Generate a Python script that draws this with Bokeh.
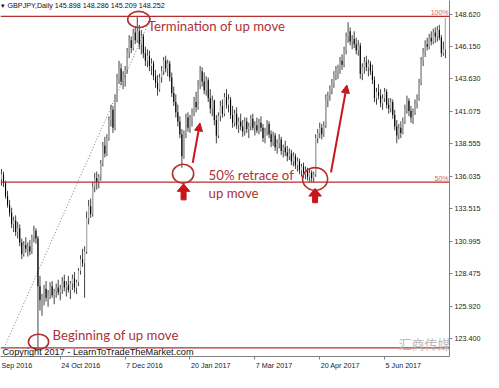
from bokeh.plotting import figure
from bokeh.models import (Range1d, LinearAxis, FixedTicker, CustomJSTickFormatter,
                          Span, Label, Arrow, NormalHead, ColumnDataSource)
from bokeh.embed import file_html
from bokeh.resources import INLINE

# ---------------- data (GBPJPY daily) ----------------
opens = [
    135.8, 136.2, 135.5, 134.5, 133.8, 133.2, 132.3, 132.6, 131.7, 132.0,
    130.9, 130.0, 130.7, 130.4, 130.6, 130.2, 131.3, 131.8, 131.2, 127.5,
    126.4, 126.6, 127.3, 126.6, 126.9, 127.5, 126.8, 127.1, 127.4, 127.0,
    127.3, 127.9, 127.4, 127.6, 127.2, 127.7, 128.1, 127.4, 127.8, 128.7,
    129.6, 129.3, 130.2, 132.8, 133.7, 133.1, 135.2, 135.9, 135.6, 136.0,
    137.0, 138.4, 137.8, 139.0, 140.4, 141.2, 139.8, 142.1, 143.6, 144.4,
    143.4, 143.9, 144.3, 145.7, 146.6, 146.0, 147.2, 146.6, 147.3, 146.3,
    146.9, 145.6, 145.0, 145.4, 144.6, 144.8, 143.8, 143.3, 142.8, 143.7,
    144.2, 145.0, 144.4, 144.8, 143.7, 142.5, 141.8, 141.0, 140.3, 139.3,
    137.6, 139.4, 140.6, 139.8, 140.5, 141.0, 141.8, 141.4, 143.1, 144.2,
    143.4, 142.7, 143.5, 142.1, 141.3, 141.9, 140.4, 139.2, 140.7, 141.5,
    140.9, 142.2, 141.6, 142.0, 140.8, 140.2, 140.9, 140.0, 140.3, 139.9,
    139.5, 140.3, 139.7, 139.9, 140.5, 139.8, 140.0, 139.6, 140.2, 139.8,
    139.0, 139.5, 140.1, 139.3, 138.7, 139.2, 138.3, 138.6, 138.9, 138.0,
    138.3, 137.9, 137.6, 137.8, 137.2, 137.6, 136.9, 137.2, 136.5, 136.8,
    136.2, 136.5, 136.0, 136.3, 135.9, 136.2, 139.0, 139.4, 139.8, 139.3,
    140.0, 142.0, 142.3, 142.8, 143.2, 143.9, 144.1, 144.4, 145.0, 144.7,
    145.8, 146.9, 147.3, 146.5, 146.7, 146.3, 145.8, 146.2, 144.0, 144.5,
    144.9, 144.5, 144.8, 144.2, 143.5, 142.1, 142.6, 142.3, 141.7, 142.1,
    142.6, 141.6, 141.3, 141.8, 140.8, 139.9, 139.2, 139.8, 139.4, 140.3,
    141.3, 141.9, 141.1, 140.6, 141.0, 141.7, 142.1, 143.3, 145.0, 145.7,
    146.3, 146.1, 146.8, 146.5, 147.2, 146.9, 147.4, 146.8, 145.6, 145.898,
]
highs = [
    136.6, 136.4, 135.7, 134.9, 134.2, 133.6, 132.9, 133.0, 132.5, 132.3,
    131.2, 131.0, 131.3, 130.9, 131.1, 131.5, 132.2, 132.0, 131.4, 128.3,
    126.9, 127.6, 127.9, 127.2, 127.8, 127.9, 127.3, 127.7, 128.0, 127.6,
    128.2, 128.4, 127.9, 128.3, 127.9, 128.4, 128.6, 128.0, 128.9, 129.9,
    130.4, 130.6, 133.3, 134.2, 134.3, 135.6, 136.3, 136.4, 136.2, 137.3,
    138.7, 139.1, 139.3, 140.7, 141.6, 141.5, 142.4, 144.0, 145.0, 144.8,
    144.2, 144.6, 146.0, 147.0, 146.9, 147.5, 147.7, 148.45, 147.8, 147.4,
    147.1, 146.1, 145.9, 145.8, 145.2, 145.0, 144.3, 143.9, 144.0, 144.6,
    145.3, 145.4, 145.1, 145.0, 144.1, 143.0, 142.4, 141.6, 140.7, 139.7,
    139.6, 140.9, 141.0, 140.8, 141.3, 142.2, 142.6, 143.5, 144.6, 144.5,
    144.1, 143.8, 143.7, 142.8, 142.3, 142.0, 140.8, 141.0, 141.9, 142.0,
    142.5, 142.8, 142.4, 142.2, 141.5, 141.2, 141.4, 140.6, 140.9, 140.4,
    140.6, 140.6, 140.2, 140.8, 140.9, 140.3, 140.6, 140.5, 140.7, 140.1,
    139.8, 140.4, 140.3, 139.6, 139.5, 139.4, 138.9, 139.3, 139.1, 138.5,
    138.8, 138.4, 138.2, 138.1, 137.9, 137.8, 137.5, 137.4, 137.0, 137.1,
    136.8, 136.7, 136.6, 136.5, 136.4, 139.3, 139.7, 140.2, 140.1, 140.3,
    142.4, 142.6, 143.1, 143.6, 144.2, 144.6, 144.7, 145.3, 145.5, 146.1,
    147.2, 148.0, 147.6, 147.0, 147.3, 146.8, 146.6, 146.4, 144.8, 145.3,
    145.4, 145.1, 145.0, 144.7, 143.8, 142.9, 143.2, 142.8, 142.4, 142.9,
    142.8, 142.1, 142.1, 142.0, 141.2, 140.4, 140.1, 140.3, 140.6, 141.6,
    142.3, 142.1, 141.5, 141.3, 142.0, 142.4, 143.6, 145.3, 146.0, 146.6,
    146.8, 147.1, 147.3, 147.5, 147.6, 147.7, 147.8, 147.0, 146.5, 148.286,
]
lows = [
    135.3, 135.2, 134.3, 133.6, 132.9, 132.0, 131.7, 131.4, 131.2, 130.6,
    129.6, 129.8, 130.1, 129.8, 129.9, 130.0, 130.9, 130.8, 122.7, 125.6,
    125.2, 126.0, 126.3, 125.9, 126.5, 126.6, 126.1, 126.6, 126.8, 126.4,
    126.9, 127.1, 126.7, 127.0, 126.5, 127.2, 127.0, 126.9, 127.5, 128.4,
    129.0, 126.6, 130.0, 132.3, 132.8, 132.9, 134.8, 135.0, 135.1, 135.7,
    136.8, 137.5, 137.6, 138.8, 139.9, 139.4, 139.6, 141.8, 143.2, 143.1,
    142.8, 143.0, 144.0, 145.2, 145.6, 145.8, 146.3, 146.4, 145.9, 145.5,
    145.2, 144.6, 144.5, 144.2, 143.9, 143.5, 142.9, 142.3, 142.6, 143.3,
    143.9, 144.1, 143.8, 143.4, 142.2, 141.5, 140.6, 139.9, 139.0, 136.7,
    137.4, 139.0, 139.5, 139.4, 139.9, 140.7, 141.0, 141.2, 142.8, 143.0,
    142.4, 142.3, 141.8, 140.9, 140.7, 140.0, 138.6, 139.0, 140.3, 140.6,
    140.7, 141.3, 141.0, 140.5, 139.8, 139.9, 139.7, 139.4, 139.6, 139.1,
    139.2, 139.4, 139.0, 139.6, 139.6, 139.2, 139.4, 139.3, 139.5, 138.7,
    138.6, 139.2, 139.0, 138.3, 138.4, 138.0, 137.8, 138.2, 137.7, 137.5,
    137.6, 137.2, 137.3, 136.9, 136.8, 136.6, 136.4, 136.2, 136.0, 135.9,
    135.8, 135.7, 135.6, 135.6, 135.6, 136.0, 138.6, 139.0, 138.9, 139.1,
    139.8, 141.4, 141.9, 142.4, 142.9, 143.5, 143.6, 144.0, 144.3, 144.5,
    145.5, 146.4, 146.2, 145.9, 146.0, 145.5, 145.4, 143.6, 143.5, 144.0,
    144.2, 143.8, 143.9, 143.2, 141.8, 141.6, 142.0, 141.4, 141.2, 141.8,
    141.3, 140.9, 141.0, 140.5, 139.6, 138.6, 138.9, 139.0, 139.3, 140.1,
    140.9, 140.7, 140.2, 140.1, 140.8, 141.3, 141.9, 143.1, 144.6, 145.3,
    145.8, 145.9, 146.2, 146.3, 146.4, 146.5, 146.6, 145.3, 145.4, 145.209,
]
closes = [
    136.2, 135.5, 134.5, 133.8, 133.2, 132.3, 132.6, 131.7, 132.0, 130.9,
    130.0, 130.7, 130.4, 130.6, 130.2, 131.3, 131.8, 131.2, 127.5, 126.4,
    126.6, 127.3, 126.6, 126.9, 127.5, 126.8, 127.1, 127.4, 127.0, 127.3,
    127.9, 127.4, 127.6, 127.2, 127.7, 128.1, 127.4, 127.8, 128.7, 129.6,
    129.3, 130.2, 132.8, 133.7, 133.1, 135.2, 135.9, 135.6, 136.0, 137.0,
    138.4, 137.8, 139.0, 140.4, 141.2, 139.8, 142.1, 143.6, 144.4, 143.4,
    143.9, 144.3, 145.7, 146.6, 146.0, 147.2, 146.6, 147.3, 146.3, 146.9,
    145.6, 145.0, 145.4, 144.6, 144.8, 143.8, 143.3, 142.8, 143.7, 144.2,
    145.0, 144.4, 144.8, 143.7, 142.5, 141.8, 141.0, 140.3, 139.3, 137.6,
    139.4, 140.6, 139.8, 140.5, 141.0, 141.8, 141.4, 143.1, 144.2, 143.4,
    142.7, 143.5, 142.1, 141.3, 141.9, 140.4, 139.2, 140.7, 141.5, 140.9,
    142.2, 141.6, 142.0, 140.8, 140.2, 140.9, 140.0, 140.3, 139.9, 139.5,
    140.3, 139.7, 139.9, 140.5, 139.8, 140.0, 139.6, 140.2, 139.8, 139.0,
    139.5, 140.1, 139.3, 138.7, 139.2, 138.3, 138.6, 138.9, 138.0, 138.3,
    137.9, 137.6, 137.8, 137.2, 137.6, 136.9, 137.2, 136.5, 136.8, 136.2,
    136.5, 136.0, 136.3, 135.9, 136.2, 139.0, 139.4, 139.8, 139.3, 140.0,
    142.0, 142.3, 142.8, 143.2, 143.9, 144.1, 144.4, 145.0, 144.7, 145.8,
    146.9, 147.3, 146.5, 146.7, 146.3, 145.8, 146.2, 144.0, 144.5, 144.9,
    144.5, 144.8, 144.2, 143.5, 142.1, 142.6, 142.3, 141.7, 142.1, 142.6,
    141.6, 141.3, 141.8, 140.8, 139.9, 139.2, 139.8, 139.4, 140.3, 141.3,
    141.9, 141.1, 140.6, 141.0, 141.7, 142.1, 143.3, 145.0, 145.7, 146.3,
    146.1, 146.8, 146.5, 147.2, 146.9, 147.4, 146.8, 145.6, 145.9, 148.252,
]

tick_bars = [29, 61, 93, 125, 157, 189]
tick_labels = ["24 Oct 2016", "7 Dec 2016", "20 Jan 2017", "7 Mar 2017", "20 Apr 2017", "5 Jun 2017"]
first_label = "Sep 2016"
y_ticks = [123.400, 125.920, 128.475, 130.995, 133.515, 136.035, 138.555, 141.075, 143.630, 146.150, 148.620]
fib_high = 148.45
fib_low = 122.70
header = "\u25be GBPJPY,Daily  145.898 148.286 145.209 148.252"

# ---------------- helpers: reference-pixel -> data ----------------
PX_PER_BAR = 2.104
def bx(px):
    return (px - 1.0) / PX_PER_BAR
def py(ypx):
    return 148.62 - (ypx - 14.5) * 0.07374

RED = "#b32e2e"
TXT_RED = "#a8323a"
ARROW_RED = "#c8161d"
MT_FONT = "Liberation Sans"
MT_SIZE = 7.2

# approximate Liberation Sans advance widths (per em) to left-align date labels at ticks
CHAR_W = {" ": 0.278, "O": 0.778, "c": 0.5, "t": 0.278, "D": 0.722, "e": 0.556, "J": 0.5,
          "a": 0.556, "n": 0.556, "M": 0.833, "r": 0.333, "A": 0.667, "p": 0.556, "u": 0.556,
          "S": 0.667}
def text_w(s):
    return sum(CHAR_W.get(ch, 0.556) for ch in s) * MT_SIZE

p = figure(width=483, height=372,
           x_range=Range1d(bx(0), bx(466)), y_range=Range1d(py(375), py(0)),
           output_backend="svg", toolbar_location=None, y_axis_location=None,
           min_border_left=0, min_border_top=0, min_border_right=32, min_border_bottom=12)
p.grid.visible = False
p.outline_line_color = None
p.background_fill_color = "white"
p.border_fill_color = "white"

FRAME_W = 483 - 32
BAR_PX = FRAME_W / (bx(466) - bx(0))

# x axis: tick marks (minor ticks) at the dates, labels left-aligned just right of each tick
lab_pos = [b + (text_w(t) / 2 + 1) / BAR_PX for b, t in zip(tick_bars, tick_labels)]
first_pos = bx(0) + (text_w(first_label) / 2 + 1) / BAR_PX
xa = p.xaxis[0]
xa.ticker = FixedTicker(ticks=[first_pos] + lab_pos, minor_ticks=tick_bars)
xa.major_label_overrides = dict(zip([first_pos] + lab_pos, [first_label] + tick_labels))
xa.major_label_text_font = MT_FONT
xa.major_label_text_font_size = f"{MT_SIZE}px"
xa.major_label_text_color = "#222222"
xa.major_label_standoff = 1
xa.axis_line_color = "#808080"
xa.major_tick_line_color = None
xa.major_tick_out = 3
xa.major_tick_in = 0
xa.minor_tick_line_color = "#808080"
xa.minor_tick_out = 3
xa.minor_tick_in = 0

# right y axis
ya = LinearAxis(ticker=FixedTicker(ticks=y_ticks),
                formatter=CustomJSTickFormatter(code="return tick.toFixed(3);"))
ya.major_label_text_font = MT_FONT
ya.major_label_text_font_size = f"{MT_SIZE}px"
ya.major_label_text_color = "#222222"
ya.major_label_standoff = 2
ya.axis_line_color = "#808080"
ya.major_tick_line_color = "#808080"
ya.major_tick_out = 3
ya.major_tick_in = 0
ya.minor_tick_line_color = None
p.add_layout(ya, "right")

# fibonacci levels
fib_mid = (fib_high + fib_low) / 2.0
for lvl in (fib_high, fib_mid, fib_low):
    p.add_layout(Span(location=lvl, dimension="width", line_color=RED, line_width=1.3))
p.line(x=[bx(3.7), bx(156.6)], y=[fib_low, fib_high], line_color="#7a7a7a",
       line_width=1, line_dash="1 2")

# candles
xs = list(range(len(closes)))
src = ColumnDataSource(dict(
    x=xs, o=opens, h=highs, l=lows, c=closes,
    top=[max(a, b) for a, b in zip(opens, closes)],
    bot=[min(a, b) for a, b in zip(opens, closes)],
    fill=["#b4b4b4" if c >= o else "#000000" for o, c in zip(opens, closes)],
))
p.segment(x0="x", y0="h", x1="x", y1="l", source=src, line_color="#111111", line_width=0.8)
p.vbar(x="x", width=0.55, top="top", bottom="bot", source=src,
       fill_color="fill", line_color=None)

# level labels
p.add_layout(Label(x=bx(465), y=fib_high, text="100%", text_align="right", text_baseline="bottom",
                   text_font=MT_FONT, text_font_size="7px", text_color="#c86a6a"))
p.add_layout(Label(x=bx(465), y=fib_mid, text="50%", text_align="right", text_baseline="bottom",
                   text_font=MT_FONT, text_font_size="7px", text_color="#c86a6a"))

# circles
ell_x = [bx(143.5), bx(189.5), bx(326.5), bx(39.5)]
ell_y = [py(20), py(182.5), py(188), py(359.5)]
ell_w = [23 / PX_PER_BAR, 22 / PX_PER_BAR, 26 / PX_PER_BAR, 21 / PX_PER_BAR]
ell_h = [17 * 0.07374, 20 * 0.07374, 24 * 0.07374, 16 * 0.07374]
p.ellipse(x=ell_x, y=ell_y, width=ell_w, height=ell_h, fill_color=None,
          line_color=RED, line_width=1.6)

# block arrows
def block_arrow(cx, tip, base, bottom, hw=6.5, sw=2.6):
    xpx = [cx, cx + hw, cx + sw, cx + sw, cx - sw, cx - sw, cx - hw]
    ypx = [tip, base, base, bottom, bottom, base, base]
    return [bx(v) for v in xpx], [py(v) for v in ypx]
a1x, a1y = block_arrow(190, 193, 201, 210)
a2x, a2y = block_arrow(326.5, 198, 206, 213)
p.patches(xs=[a1x, a2x], ys=[a1y, a2y], fill_color=ARROW_RED, line_color=ARROW_RED)

# thin arrows
for (x0, y0, x1, y1) in [(199.5, 171, 207, 129), (343, 181, 359.5, 89)]:
    p.add_layout(Arrow(end=NormalHead(size=8, fill_color=ARROW_RED, line_color=ARROW_RED),
                       x_start=bx(x0), y_start=py(y0), x_end=bx(x1), y_end=py(y1),
                       line_color=ARROW_RED, line_width=2))

# annotation texts
def note(px, pyy, txt):
    p.add_layout(Label(x=bx(px), y=py(pyy), text=txt, text_align="left", text_baseline="middle",
                       text_font="Lato", text_font_size="13.2px", text_color=TXT_RED))
note(153, 27, "Termination of up move")
note(216, 184, "50% retrace of")
note(216, 203, "up move")
note(54, 352, "Beginning of up move")

# MT4 texts
p.add_layout(Label(x=bx(1), y=py(5), text=header, text_align="left", text_baseline="middle",
                   text_font=MT_FONT, text_font_size=f"{MT_SIZE}px", text_color="#111111"))
p.add_layout(Label(x=bx(2), y=py(370.5), text="Copyright 2017 - LearnToTradeTheMarket.com",
                   text_align="left", text_baseline="middle",
                   text_font=MT_FONT, text_font_size="9.2px", text_color="#111111"))
p.add_layout(Label(x=bx(413), y=py(361), text="汇商传媒", text_align="left", text_baseline="middle",
                   text_font="Noto Sans CJK SC", text_font_size="13px", text_color="#b8b8b8"))

open("out.html", "w").write(file_html(p, INLINE))
